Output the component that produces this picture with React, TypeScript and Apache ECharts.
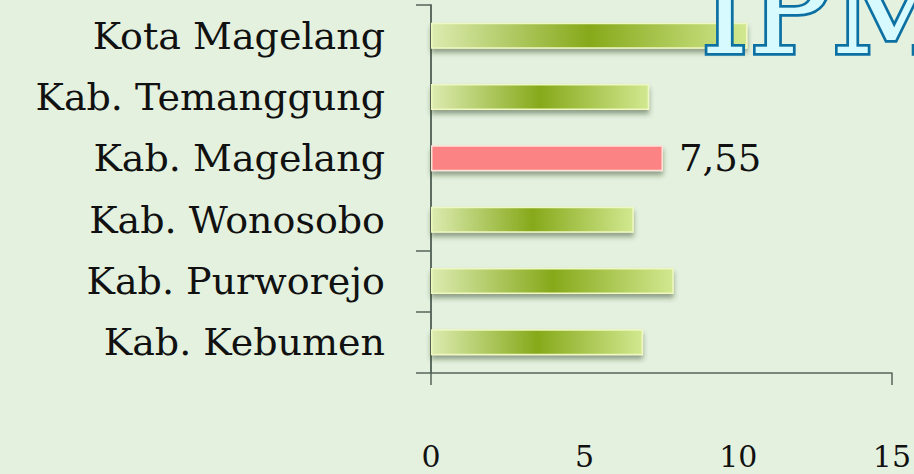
import React, { useEffect, useRef } from "react";
import * as echarts from "echarts";

const categories = [
  "Kota Magelang",
  "Kab. Temanggung",
  "Kab. Magelang",
  "Kab. Wonosobo",
  "Kab. Purworejo",
  "Kab. Kebumen",
];
const values = [10.3, 7.1, 7.55, 6.6, 7.9, 6.9];
const highlightIndex = 2;
const highlightLabel = "7,55";
const xTicks = [0, 5, 10, 15];
const title = "IPM";

const AXIS = "#56645a";
const SERIF = "'DejaVu Serif', 'Liberation Serif', serif";

export default function App() {
  const ref = useRef<HTMLDivElement>(null);
  useEffect(() => {
    if (!ref.current) return;
    const chart = echarts.init(ref.current, undefined, { renderer: "svg" });
    const green = new echarts.graphic.LinearGradient(0, 0, 1, 0, [
      { offset: 0, color: "#dcebb0" },
      { offset: 0.5, color: "#86a91a" },
      { offset: 1, color: "#d2e890" },
    ]);
    const data = values.map((v, i) =>
      i === highlightIndex
        ? {
            value: v,
            itemStyle: {
              color: "#fc8383",
              borderColor: "#fde2da",
              borderWidth: 1.5,
            },
            label: {
              show: true,
              position: "right",
              distance: 16,
              formatter: () => highlightLabel,
              fontFamily: SERIF,
              fontSize: 37,
              color: "#111",
            },
          }
        : { value: v }
    );
    chart.setOption({
      animation: false,
      backgroundColor: "#e4f1df",
      grid: { left: 431, right: 18, top: 5, bottom: 101, containLabel: false },
      xAxis: [
        {
          type: "value",
          min: xTicks[0],
          max: xTicks[xTicks.length - 1],
          interval: xTicks[1] - xTicks[0],
          axisLine: { show: true, lineStyle: { color: AXIS, width: 1.5 } },
          axisTick: { show: false },
          splitLine: { show: false },
          axisLabel: {
            margin: 68,
            fontFamily: SERIF,
            fontSize: 30,
            color: "#111",
          },
        },
        {
          type: "value",
          position: "bottom",
          min: 0,
          max: 15,
          interval: 15,
          axisLine: { show: false },
          axisTick: { show: true, length: 12, lineStyle: { color: AXIS, width: 1.5 } },
          axisLabel: { show: false },
          splitLine: { show: false },
        },
      ],
      yAxis: [
        {
          type: "category",
          data: categories,
          inverse: true,
          axisLine: { show: true, lineStyle: { color: AXIS, width: 1.5 } },
          axisTick: {
            show: true,
            length: 15,
            lineStyle: { color: AXIS, width: 1.5 },
            interval: (i: number) => i === 0 || i >= 4,
          },
          axisLabel: {
            margin: 46,
            fontFamily: SERIF,
            fontSize: 38,
            color: "#111",
          },
        },
        {
          type: "category",
          data: categories,
          inverse: true,
          position: "right",
          axisLine: { show: true, lineStyle: { color: AXIS, width: 1.5 } },
          axisTick: { show: false },
          axisLabel: { show: false },
        },
      ],
      series: [
        {
          type: "bar",
          data,
          barWidth: 26,
          itemStyle: {
            color: green,
            borderColor: "#eef8c0",
            borderWidth: 1.5,
            shadowColor: "rgba(40,60,20,0.45)",
            shadowBlur: 5,
            shadowOffsetY: 4,
          },
        },
      ],
      graphic: [
        {
          type: "text",
          z: 100,
          left: 698,
          top: -53,
          style: {
            text: title,
            font: "122px 'DejaVu Serif', serif",
            fill: "#d6fafd",
            stroke: "#0c70a2",
            lineWidth: 5.5,
          },
        },
      ],
    });
    return () => chart.dispose();
  }, []);
  return (
    <div
      ref={ref}
      style={{ position: "fixed", left: 0, top: 0, width: 914, height: 474 }}
    />
  );
}
